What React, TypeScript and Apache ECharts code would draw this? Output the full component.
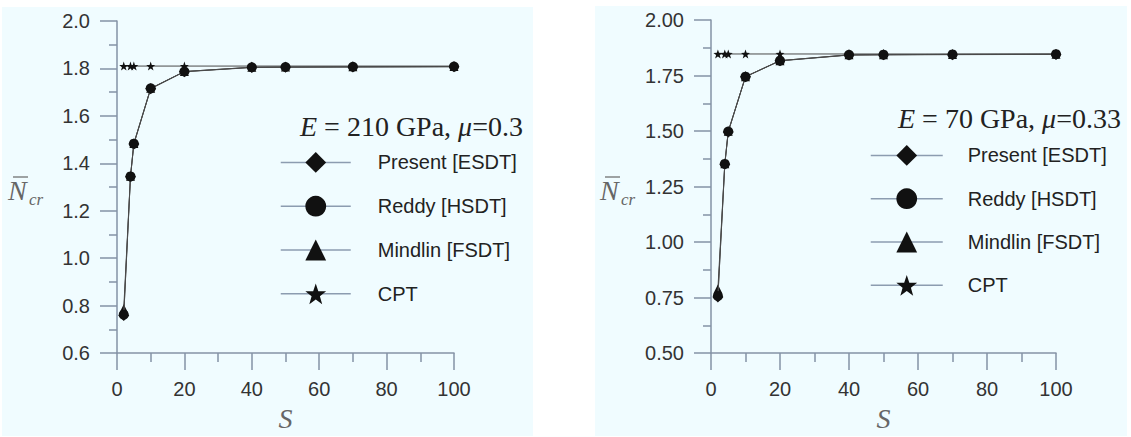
import React, { useEffect, useRef } from "react";
import * as echarts from "echarts";

// ---- data ----
const S = [2, 4, 5, 10, 20, 40, 50, 70, 100];

// Left: E = 210 GPa, mu = 0.3
const leftESDT = [0.758, 1.343, 1.481, 1.714, 1.786, 1.804, 1.805, 1.806, 1.807];
const leftHSDT = [0.762, 1.345, 1.483, 1.716, 1.787, 1.805, 1.806, 1.807, 1.808];
const leftFSDT = [0.787, 1.346, 1.484, 1.716, 1.787, 1.805, 1.806, 1.807, 1.808];
const leftCPT = [1.81, 1.81, 1.81, 1.81, 1.81, 1.81, 1.81, 1.81, 1.81];

// Right: E = 70 GPa, mu = 0.33
const rightESDT = [0.753, 1.35, 1.496, 1.744, 1.816, 1.842, 1.843, 1.844, 1.845];
const rightHSDT = [0.757, 1.352, 1.498, 1.745, 1.817, 1.843, 1.844, 1.845, 1.846];
const rightFSDT = [0.789, 1.353, 1.499, 1.745, 1.817, 1.843, 1.844, 1.845, 1.846];
const rightCPT = [1.847, 1.847, 1.847, 1.847, 1.847, 1.847, 1.847, 1.847, 1.847];

const seriesNames = ["Present [ESDT]", "Reddy [HSDT]", "Mindlin [FSDT]", "CPT"];
const xTicks = { min: 0, max: 100, interval: 20 };
const leftY = { min: 0.6, max: 2.0, interval: 0.2 };
const rightY = { min: 0.5, max: 2.0, interval: 0.25 };

const STAR =
  "path://M0,-10L2.35,-3.24L9.51,-3.09L3.8,1.24L5.88,8.09L0,4L-5.88,8.09L-3.8,1.24L-9.51,-3.09L-2.35,-3.24Z";

const symbols = ["diamond", "circle", "triangle", STAR];
const symbolSizes = [11, 10, 9, 9];
const zs = [4, 5, 3, 2];

const AXIS_COLOR = "#8593a6";
const LABEL_COLOR = "#333333";
const PANEL = "#f0fcff";

function pairs(ys: number[]) {
  return S.map((x, i) => [x, ys[i]]);
}

function makeXAxis(gridIndex: number) {
  return {
    type: "value",
    gridIndex,
    min: xTicks.min,
    max: xTicks.max,
    interval: xTicks.interval,
    name: "S",
    nameLocation: "middle",
    nameGap: 48,
    nameTextStyle: {
      fontFamily: "Liberation Serif",
      fontStyle: "italic",
      fontSize: 28,
      color: "#666666",
    },
    axisLine: { show: true, onZero: false, lineStyle: { color: AXIS_COLOR, width: 1.5 } },
    axisTick: { show: true, length: 17, lineStyle: { color: AXIS_COLOR, width: 1.5 } },
    minorTick: { show: true, splitNumber: 2, length: 9, lineStyle: { color: AXIS_COLOR, width: 1.5 } },
    splitLine: { show: false },
    axisLabel: {
      margin: 26,
      fontFamily: "Liberation Sans",
      fontSize: 20,
      color: LABEL_COLOR,
    },
  };
}

function makeYAxis(gridIndex: number, cfg: { min: number; max: number; interval: number }, digits: number) {
  return {
    type: "value",
    gridIndex,
    min: cfg.min,
    max: cfg.max,
    interval: cfg.interval,
    axisLine: { show: true, onZero: false, lineStyle: { color: AXIS_COLOR, width: 1.5 } },
    axisTick: { show: true, length: 17, lineStyle: { color: AXIS_COLOR, width: 1.5 } },
    minorTick: { show: true, splitNumber: 2, length: 8, lineStyle: { color: AXIS_COLOR, width: 1.5 } },
    splitLine: { show: false },
    axisLabel: {
      margin: 27,
      fontFamily: "Liberation Sans",
      fontSize: 20,
      color: LABEL_COLOR,
      formatter: (v: number) => v.toFixed(digits),
    },
  };
}

function makeSeries(idx: number, sets: number[][]) {
  return sets.map((ys, i) => ({
    type: "line",
    name: seriesNames[i],
    xAxisIndex: idx,
    yAxisIndex: idx,
    data: pairs(ys),
    symbol: symbols[i],
    symbolSize: symbolSizes[i],
    showAllSymbol: true,
    z: zs[i],
    lineStyle: { color: "#4a4a4a", width: 1 },
    itemStyle: { color: "#111111" },
  }));
}

function makeLegend(left: number, top: number, itemWidth: number, gap: number, pad: number) {
  return {
    data: seriesNames,
    orient: "vertical",
    left,
    top,
    padding: 0,
    itemWidth,
    itemHeight: 26,
    itemGap: gap,
    selectedMode: false,
    lineStyle: { color: "#8c9cb0", width: 1.5 },
    textStyle: {
      fontFamily: "Liberation Sans",
      fontSize: 20,
      color: "#222222",
      padding: [0, 0, 0, pad],
    },
  };
}

function nLabel(x: number) {
  return [
    {
      type: "text",
      x,
      y: 190,
      style: {
        text: "N",
        fontFamily: "Liberation Serif",
        fontStyle: "italic",
        fontSize: 28,
        fill: "#666666",
        verticalAlign: "middle",
      },
    },
    {
      type: "text",
      x: x + 21,
      y: 199,
      style: {
        text: "cr",
        fontFamily: "Liberation Serif",
        fontStyle: "italic",
        fontSize: 17,
        fill: "#666666",
        verticalAlign: "middle",
      },
    },
    {
      type: "line",
      shape: { x1: x + 5, y1: 177, x2: x + 20, y2: 177 },
      style: { stroke: "#666666", lineWidth: 1.2 },
    },
  ];
}

function title(x: number, y: number, num: string, mu: string) {
  return {
    type: "text",
    x,
    y,
    style: {
      text: `{i|E} = ${num} GPa, {i|\u03bc}=${mu}`,
      fontFamily: "Liberation Serif",
      fontSize: 28,
      fill: "#222222",
      verticalAlign: "middle",
      rich: {
        i: { fontFamily: "Liberation Serif", fontStyle: "italic", fontSize: 28, fill: "#222222" },
      },
    },
  };
}

export default function App() {
  const ref = useRef<HTMLDivElement>(null);
  useEffect(() => {
    if (!ref.current) return;
    const chart = echarts.init(ref.current, undefined, { renderer: "svg" });
    chart.setOption({
      animation: false,
      backgroundColor: "#ffffff",
      grid: [
        { left: 117, top: 21, width: 337, height: 336 },
        { left: 711, top: 20, width: 345, height: 343 },
      ],
      xAxis: [makeXAxis(0), makeXAxis(1)],
      yAxis: [makeYAxis(0, leftY, 1), makeYAxis(1, rightY, 2)],
      legend: [makeLegend(280, 152, 70, 23, 22), makeLegend(870, 145, 72, 22.5, 20)],
      graphic: [
        { type: "rect", z: -100, shape: { x: 2, y: 7, width: 531, height: 429 }, style: { fill: PANEL } },
        { type: "rect", z: -100, shape: { x: 595, y: 6, width: 532, height: 430 }, style: { fill: PANEL } },
        ...nLabel(8),
        ...nLabel(600),
        title(300, 126, "210", "0.3"),
        title(898, 118, "70", "0.33"),
      ],
      series: [
        ...makeSeries(0, [leftESDT, leftHSDT, leftFSDT, leftCPT]),
        ...makeSeries(1, [rightESDT, rightHSDT, rightFSDT, rightCPT]),
      ],
    });
    return () => chart.dispose();
  }, []);
  return (
    <div
      ref={ref}
      style={{ position: "absolute", left: 0, top: 0, width: 1131, height: 437 }}
    />
  );
}
